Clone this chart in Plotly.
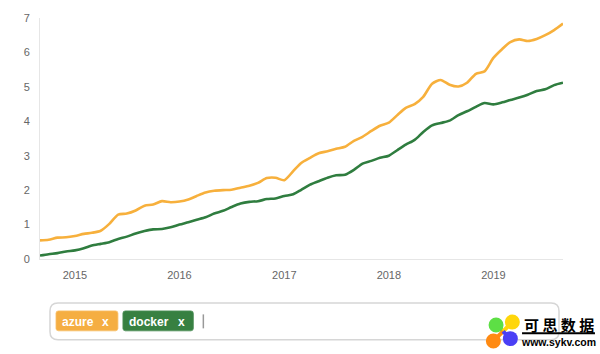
import pandas as pd
import plotly.graph_objects as go

months = pd.date_range("2014-09-01", "2019-09-01", freq="MS")
azure = [.54,.56,.62,.63,.67,.73,.76,.82,1.02,1.29,1.32,1.41,1.55,1.58,1.68,1.65,1.67,1.73,1.83,1.93,1.98,2.0,2.01,2.07,2.13,2.21,2.35,2.36,2.29,2.55,2.79,
         2.94,3.07,3.13,3.2,3.26,3.43,3.55,3.72,3.87,3.96,4.19,4.39,4.5,4.71,5.09,5.2,5.06,5.01,5.12,5.38,5.45,5.84,6.1,6.3,6.38,6.33,6.39,6.5,6.65,6.84]
docker = [.10,.14,.17,.22,.25,.31,.39,.44,.49,.58,.65,.74,.81,.86,.87,.92,1.0,1.07,1.14,1.21,1.32,1.40,1.51,1.61,1.66,1.68,1.74,1.76,1.83,1.88,2.01,
          2.16,2.26,2.36,2.43,2.45,2.59,2.77,2.85,2.94,3.0,3.17,3.32,3.46,3.69,3.88,3.95,4.02,4.18,4.29,4.42,4.53,4.49,4.55,4.62,4.69,4.77,4.88,4.93,5.05,5.12]
AZURE = "#f7b03c"
DOCKER = "#2f7d3f"
W, H = 600, 354
L, R, T, B = 39.5, 563, 18, 259.5

fig = go.Figure()
for name, vals, col in [("azure", azure, AZURE), ("docker", docker, DOCKER)]:
    fig.add_trace(go.Scatter(x=months, y=vals, name=name, mode="lines",
                             line=dict(color=col, width=2.6, shape="spline", smoothing=0.7),
                             hoverinfo="skip"))


def px(x):
    return (x - L) / (R - L)


def py(y):
    return (B - y) / (B - T)


def rrect(x0, y0, x1, y1, r):
    return (f"M{px(x0+r)},{py(y0)} L{px(x1-r)},{py(y0)} Q{px(x1)},{py(y0)} {px(x1)},{py(y0+r)} "
            f"L{px(x1)},{py(y1-r)} Q{px(x1)},{py(y1)} {px(x1-r)},{py(y1)} L{px(x0+r)},{py(y1)} "
            f"Q{px(x0)},{py(y1)} {px(x0)},{py(y1-r)} L{px(x0)},{py(y0+r)} Q{px(x0)},{py(y0)} {px(x0+r)},{py(y0)} Z")


shapes = [
    dict(type="path", path=rrect(49.5, 303.5, 559, 340.5, 8), line=dict(color="#d6d6d6", width=1.5), fillcolor="rgba(0,0,0,0)"),
    dict(type="path", path=rrect(55.5, 311.5, 117.5, 331.5, 2.5), line=dict(color="#f9c069", width=0.8), fillcolor="#f5ae42"),
    dict(type="path", path=rrect(122.5, 311.5, 193, 331.5, 2.5), line=dict(color="#4f9159", width=0.8), fillcolor="#378041"),
    dict(type="line", x0=px(203), x1=px(203), y0=py(315), y1=py(329), line=dict(color="#999999", width=1.5)),
    dict(type="line", x0=px(522), x1=px(595), y0=py(334), y1=py(334), line=dict(color="#000000", width=2)),
]
hub = (503, 332)
for cx, cy, c in [(496, 325.7, "#5ddf45"), (512.3, 322.7, "#ffd60a"), (493.3, 341.7, "#ff8a12"), (510.3, 339.3, "#4a3ff5")]:
    shapes.append(dict(type="line", x0=px(cx), x1=px(hub[0]), y0=py(cy), y1=py(hub[1]), line=dict(color=c, width=4)))
    shapes.append(dict(type="circle", x0=px(cx-7.5), x1=px(cx+7.5), y0=py(cy+7.5), y1=py(cy-7.5),
                       fillcolor=c, line=dict(width=0)))
for s in shapes:
    s.update(xref="paper", yref="paper")


def label(text, x, y, size, color="#ffffff", fam="Liberation Sans"):
    return dict(text=text, x=px(x), y=py(y), xref="paper", yref="paper", showarrow=False,
                xanchor="center", yanchor="middle", font=dict(family=fam, size=size, color=color))


annotations = [
    label("<b>azure</b>", 77.5, 322.3, 12),
    label("<b>x</b>", 105, 322.3, 12),
    label("<b>docker</b>", 149, 322.3, 12),
    label("<b>x</b>", 181, 322.3, 12),
    label("<b>可 思 数 据</b>", 558.5, 325.5, 15, "#000000", "Noto Sans CJK SC"),
    label("<b>www.sykv.com</b>", 558.5, 342.5, 10.5, "#000000"),
]

fig.update_layout(
    width=W, height=H, autosize=False, showlegend=False,
    paper_bgcolor="white", plot_bgcolor="white",
    margin=dict(l=L, r=W-R, t=T, b=H-B, pad=0),
    font=dict(family="Liberation Sans", size=11, color="#666666"),
    shapes=shapes, annotations=annotations,
    xaxis=dict(type="date", range=[months[0], months[-1]], tick0="2015-01-01", dtick="M12",
               tickformat="%Y", showgrid=False, zeroline=False, showline=True, linecolor="#e6e6e6",
               linewidth=1, ticks="", ticklabelstandoff=6, tickfont=dict(size=11, color="#666666")),
    yaxis=dict(range=[0, 7], dtick=1, showgrid=False, zeroline=False, showline=True, linecolor="#e6e6e6",
               linewidth=1, ticks="", ticklabelstandoff=7, tickfont=dict(size=11, color="#666666")),
)

fig.write_html("out.html", config=dict(displayModeBar=False),
               post_script="document.body.style.margin='0';document.body.style.overflow='hidden';")
